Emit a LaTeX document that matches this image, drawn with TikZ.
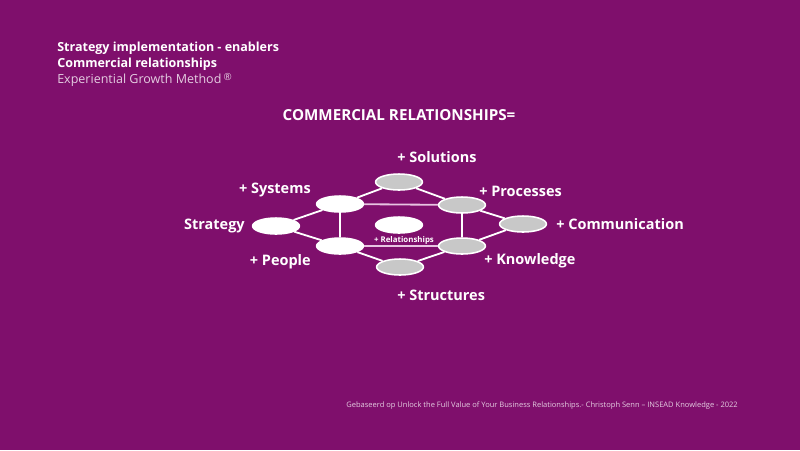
\documentclass[tikz,border=0pt]{standalone}
\usepackage{fontspec}
\setmainfont{Open Sans}
\usetikzlibrary{shapes.geometric}

\begin{document}
\begin{tikzpicture}[x=0.025cm, y=-0.025cm,
  bubble/.style={ellipse, draw=white, line width=1.1pt, minimum width=1.17cm, minimum height=0.4cm, inner sep=0pt},
  whitebubble/.style={bubble, fill=white},
  graybubble/.style={bubble, fill=bubblegray},
  tag/.style={text=white, inner sep=0pt, font=\fontsize{10.3}{12}\selectfont\bfseries},
  headline/.style={anchor=west, inner sep=0pt, text=white, font=\fontsize{8.9}{10}\selectfont\bfseries},
  link/.style={white, line width=1.3pt},
  softlink/.style={linkpink, line width=1.3pt}]

\definecolor{slide}{RGB}{127,15,108}
\definecolor{bubblegray}{RGB}{200,200,200}
\definecolor{linkpink}{RGB}{232,196,226}
\definecolor{lighttext}{RGB}{228,205,225}

% slide
\fill[slide] (0,0) rectangle (800,450);
\useasboundingbox (0,0) rectangle (800,450);

% header
\node[headline] (head1) at (57,48) {Strategy implementation - enablers};
\node[headline] (head2) at (57,64) {Commercial relationships};
\node[headline, text=lighttext, font=\fontsize{8.9}{10}\selectfont] (head3) at (57,80) {Experiential Growth Method\,\raisebox{0.35ex}{\scriptsize\textregistered}};

\node[tag, font=\fontsize{10.8}{12}\selectfont\bfseries] (title) at (399,115) {COMMERCIAL RELATIONSHIPS=};

% bubbles
\node[whitebubble] (strategy) at (276,226) {};
\node[whitebubble] (systems) at (340,204) {};
\node[whitebubble] (people) at (340,246) {};
\node[whitebubble] (relations) at (399,225) {};
\node[graybubble] (solutions) at (399,182) {};
\node[graybubble] (structures) at (400,267) {};
\node[graybubble] (processes) at (462,205) {};
\node[graybubble] (knowledge) at (462,246) {};
\node[graybubble] (communication) at (523,224) {};

% links
\draw[link] (strategy) -- (systems);
\draw[link] (strategy) -- (people);
\draw[link] (systems) -- (people);
\draw[link] (systems) -- (solutions);
\draw[link] (solutions) -- (processes);
\draw[softlink] (systems) -- (processes);
\draw[softlink] (people) -- (knowledge);
\draw[link] (people) -- (structures);
\draw[link] (structures) -- (knowledge);
\draw[link] (processes) -- (knowledge);
\draw[link] (processes) -- (communication);
\draw[link] (communication) -- (knowledge);

% labels
\node[tag, anchor=east] (strategytag) at (245,226) {Strategy};
\node[tag, anchor=east] (systemstag) at (311,190) {+ Systems};
\node[tag, anchor=east] (peopletag) at (311,262) {+ People};
\node[tag, anchor=west] (solutionstag) at (397,157) {+ Solutions};
\node[tag, anchor=west] (structurestag) at (397,295) {+ Structures};
\node[tag, anchor=west] (processestag) at (479,191) {+ Processes};
\node[tag, anchor=west] (communicationtag) at (556,224) {+ Communication};
\node[tag, anchor=west] (knowledgetag) at (484,261) {+ Knowledge};
\node[tag, font=\fontsize{5.6}{7}\selectfont\bfseries] (relationstag) at (404,240) {+ Relationships};

% source
\node[anchor=east, inner sep=0pt, text=lighttext, font=\fontsize{5.35}{6}\selectfont] (source) at (738,406) {Gebaseerd op Unlock the Full Value of Your Business Relationships.- Christoph Senn -- INSEAD Knowledge - 2022};

\end{tikzpicture}
\end{document}
